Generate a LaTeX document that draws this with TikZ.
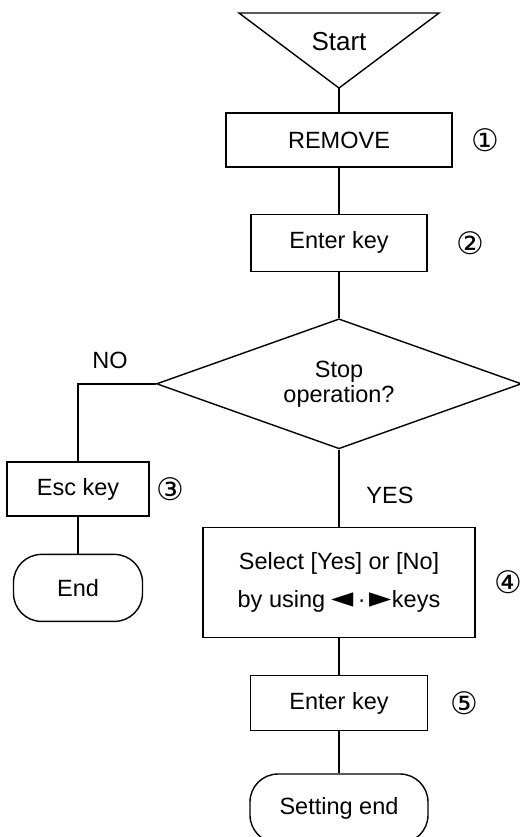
\documentclass[tikz,border=0pt]{standalone}
\usepackage{fontspec}
\setmainfont{Liberation Sans}
\newfontfamily\symfont{DejaVu Sans}
\usetikzlibrary{positioning,shapes.geometric}

\begin{document}
\begin{tikzpicture}[
    x=1pt,y=1pt,
    font=\fontsize{11.75}{14}\selectfont,
    box/.style={rectangle,draw,line width=0.7pt,
                inner sep=0pt,align=center},
    term/.style={box,rounded corners=14pt},
    decide/.style={diamond,aspect=2.8,draw,line width=0.7pt,inner sep=0pt,align=center},
    num/.style={inner sep=0pt,font=\symfont\fontsize{15.5}{16}\selectfont},
    conn/.style={line width=0.7pt}]
\useasboundingbox (0,0) rectangle (260,-418.5);
% start triangle
\coordinate (apex) at (169.5,-44);
\draw[conn] (119.5,-6.5) -- (219.5,-6.5) -- (apex) -- cycle;
\node[font=\fontsize{13}{14}\selectfont] (start) at (169.5,-21) {Start};
% main column
\node[box,minimum width=113pt,minimum height=27pt] (remove) at (169.5,-70) {REMOVE};
\node[box,minimum width=88pt,minimum height=28.5pt,below=23pt of remove] (enter) {Enter key};
\node[decide,minimum width=182.5pt,minimum height=65pt,below=23pt of enter,
      font=\fontsize{11.75}{12.5}\selectfont] (stop) {Stop\\operation?};
\node[box,minimum width=136pt,minimum height=55pt,below=38.5pt of stop,
      font=\fontsize{11.75}{19}\selectfont] (select)
      {Select [Yes] or [No]\\by using {\symfont\fontsize{14.5}{19}\selectfont ◄}\,·\,{\symfont\fontsize{14.5}{19}\selectfont ►}keys};
\node[box,minimum width=88.5pt,minimum height=27.5pt,below=18.5pt of select] (enter2) {Enter key};
\node[term,minimum width=89pt,minimum height=34.5pt,below=21pt of enter2] (setend) {Setting end};
% NO branch
\node[box,minimum width=71pt,minimum height=27pt] (esc) at (39,-244.5) {Esc key};
\node[term,minimum width=64.5pt,minimum height=33.5pt,below=18.5pt of esc] (end) {End};
% step numbers
\node[num,right=9pt of remove] (n1) {①};
\node[num,right=14pt of enter] (n2) {②};
\node[num,right=3pt of esc] (n3) {③};
\node[num,right=9pt of select] (n4) {④};
\node[num,right=11pt of enter2] (n5) {⑤};
\node (no) at (55,-180) {NO};
\node (yes) at (195,-247.5) {YES};
% connectors
\draw[conn] (apex) -- (remove);
\draw[conn] (remove) -- (enter);
\draw[conn] (enter) -- (stop);
\draw[conn] (stop.west) -| (esc);
\draw[conn] (esc) -- (end);
\draw[conn] (stop) -- (select);
\draw[conn] (select) -- (enter2);
\draw[conn] (enter2) -- (setend);
\end{tikzpicture}
\end{document}
